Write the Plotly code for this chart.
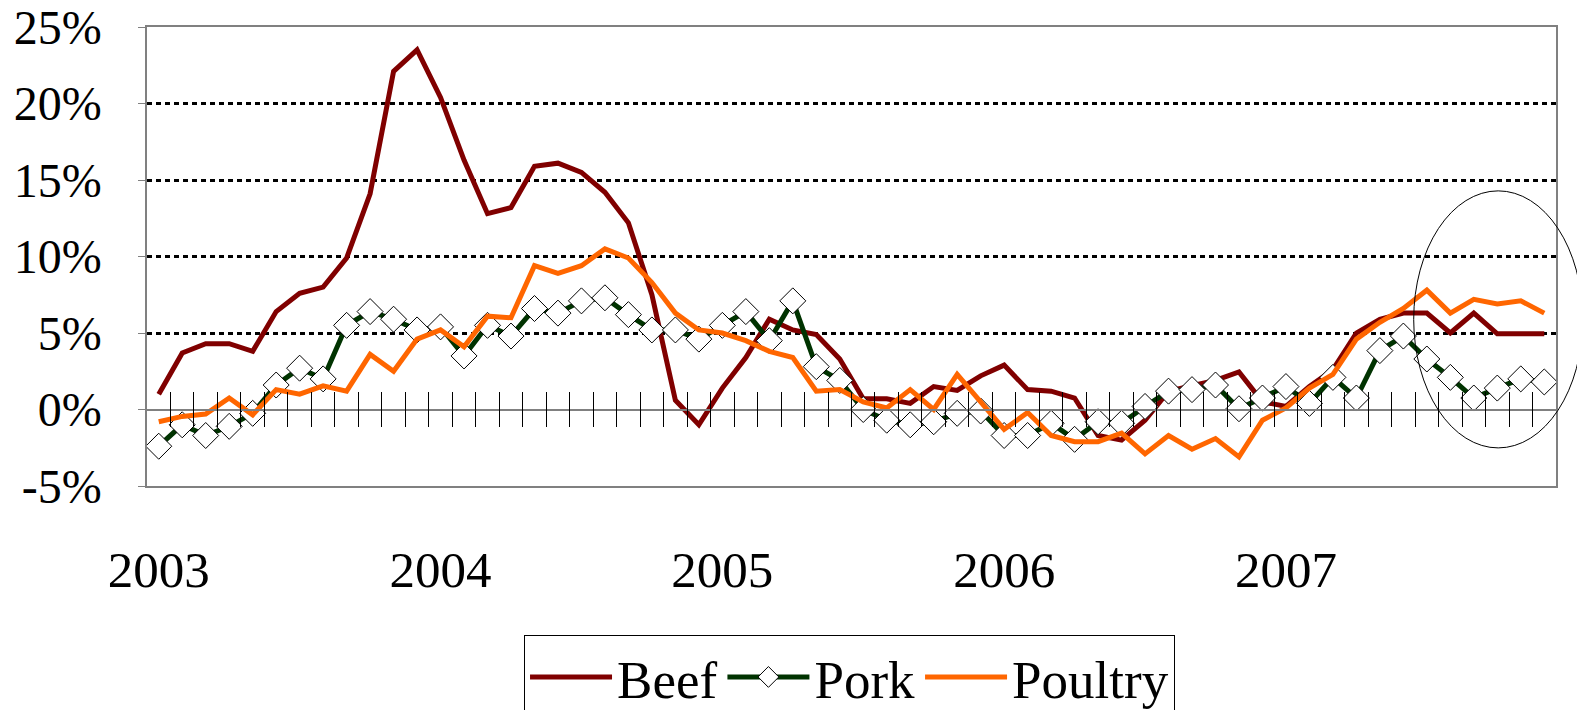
import plotly.graph_objects as go

months = list(range(60))  # Jan 2003 .. Dec 2007
year_labels = ["2003", "2004", "2005", "2006", "2007"]
year_pos = [0, 12, 24, 36, 48]

beef = [1.0, 3.7, 4.3, 4.3, 3.8, 6.4, 7.6, 8.0, 9.9, 14.1, 22.1, 23.5,
        20.4, 16.3, 12.8, 13.2, 15.9, 16.1, 15.5, 14.2, 12.2, 7.5, 0.6, -1.0,
        1.4, 3.4, 5.9, 5.2, 4.9, 3.3, 0.7, 0.7, 0.4, 1.5, 1.25, 2.2,
        2.9, 1.3, 1.2, 0.75, -1.7, -2.0, -0.7, 1.2, 1.55, 1.9, 2.45, 0.5,
        0.2, 1.5, 2.6, 5.0, 5.9, 6.3, 6.3, 5.0, 6.3, 4.95, 4.95, 4.95]

pork = [-2.4, -1.0, -1.7, -1.1, -0.25, 1.6, 2.7, 2.0, 5.5, 6.4, 5.9, 5.2,
        5.4, 3.5, 5.5, 4.8, 6.6, 6.3, 7.1, 7.3, 6.2, 5.2, 5.2, 4.6,
        5.5, 6.4, 4.5, 7.1, 2.8, 1.9, 0.0, -0.7, -1.0, -0.8, -0.25, -0.1,
        -1.7, -1.7, -0.9, -1.95, -0.8, -0.9, 0.2, 1.2, 1.3, 1.6, 0.05, 0.75,
        1.5, 0.4, 2.1, 0.75, 3.85, 4.8, 3.3, 2.1, 0.75, 1.4, 2.0, 1.8]

poultry = [-0.8, -0.45, -0.3, 0.75, -0.35, 1.3, 1.0, 1.55, 1.2, 3.6, 2.5, 4.6,
           5.2, 4.1, 6.1, 6.0, 9.4, 8.9, 9.4, 10.5, 9.9, 8.3, 6.3, 5.2,
           5.0, 4.5, 3.8, 3.4, 1.2, 1.3, 0.5, 0.1, 1.3, 0.0, 2.3, 0.5,
           -1.3, -0.2, -1.7, -2.1, -2.1, -1.55, -2.9, -1.7, -2.6, -1.9, -3.1, -0.7,
           0.1, 1.4, 2.3, 4.6, 5.7, 6.6, 7.8, 6.3, 7.2, 6.9, 7.1, 6.3]

y_ticks = [-5, 0, 5, 10, 15, 20, 25]
grid_ticks = [-4.96, 5, 10, 15, 20, 24.96]
boundaries = [i + 0.5 for i in range(59)]

FONT = "Liberation Serif, Times New Roman, serif"
GRAY = "#808080"
FS = 51

fig = go.Figure()
fig.add_trace(go.Scatter(x=months, y=beef, name="Beef", mode="lines",
                         line=dict(color="#800000", width=5)))
fig.add_trace(go.Scatter(x=months, y=pork, name="Pork", mode="lines+markers",
                         line=dict(color="#003300", width=5),
                         marker=dict(symbol="diamond", size=20, color="white",
                                     line=dict(color="black", width=1))))
fig.add_trace(go.Scatter(x=months, y=poultry, name="Poultry", mode="lines",
                         line=dict(color="#FF6600", width=5)))

fig.update_layout(
    width=1585, height=710,
    margin=dict(l=139, r=37, t=19, b=232, autoexpand=False),
    paper_bgcolor="white", plot_bgcolor="white",
    font=dict(family=FONT, size=FS, color="black"),
    xaxis=dict(range=[-0.5, 59.5], tickmode="array", tickvals=year_pos,
               ticktext=year_labels, ticks="outside", ticklen=38,
               tickcolor="rgba(0,0,0,0)", showgrid=False, zeroline=False,
               showline=True, linecolor=GRAY, linewidth=1.5, mirror=True,
               automargin=False, ticklabeloverflow="allow",
               tickfont=dict(size=FS)),
    xaxis2=dict(range=[-0.5, 59.5], overlaying="x", anchor="free",
                position=1/6, tickmode="array", tickvals=boundaries,
                ticks="outside", ticklen=17, tickcolor="black", tickwidth=1,
                showticklabels=False, showgrid=False, zeroline=False,
                showline=True, linecolor=GRAY, linewidth=1.5),
    xaxis3=dict(range=[-0.5, 59.5], overlaying="x", anchor="free",
                position=1/6, tickmode="array", tickvals=boundaries,
                ticks="inside", ticklen=18, tickcolor="black", tickwidth=1,
                showticklabels=False, showgrid=False, zeroline=False,
                showline=False),
    yaxis=dict(range=[-5, 25], tickmode="array", tickvals=y_ticks,
               ticktext=[f"{v}%" for v in y_ticks], ticks="outside",
               ticklen=7, tickcolor=GRAY, showgrid=False, zeroline=False,
               showline=True, linecolor=GRAY, linewidth=1.5, mirror=True,
               ticklabelstandoff=27, automargin=False,
               ticklabeloverflow="allow", tickfont=dict(size=48)),
    yaxis2=dict(range=[-5, 25], overlaying="y", tickmode="array",
                tickvals=grid_ticks, showticklabels=False, showgrid=True,
                gridcolor="black", gridwidth=2.5, griddash="5px,4px",
                zeroline=False, showline=False),
    legend=dict(orientation="h", x=0.4986, xanchor="center", y=-0.3246,
                yanchor="top", bordercolor="black", borderwidth=1,
                itemwidth=82,
                font=dict(size=53, family=FONT), bgcolor="white"),
    showlegend=True,
)

fig.add_trace(go.Scatter(x=[None], y=[None], xaxis="x2", yaxis="y2",
                         showlegend=False, hoverinfo="skip"))
fig.add_trace(go.Scatter(x=[None], y=[None], xaxis="x3", yaxis="y2",
                         showlegend=False, hoverinfo="skip"))

fig.add_shape(type="circle", xref="paper", yref="paper",
              x0=0.899, x1=1.019, y0=0.083, y1=0.643,
              line=dict(color="black", width=1))

fig.write_html("out.html")
